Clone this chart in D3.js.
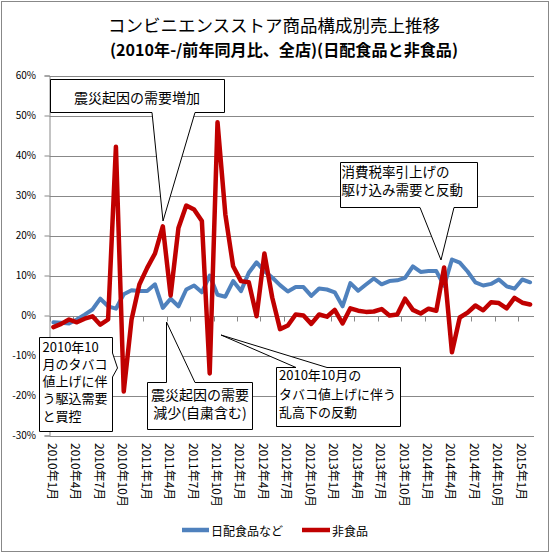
<!DOCTYPE html>
<html><head><meta charset="utf-8">
<script src="https://cdn.jsdelivr.net/npm/d3@7"></script>
<style>
html,body{margin:0;padding:0;background:#fff;}
text{font-family:"Noto Sans CJK JP","Noto Sans",sans-serif;}
</style></head>
<body>
<svg id="chart" width="551" height="554"></svg>
<script>
const months = [
"2010年1月","2010年2月","2010年3月","2010年4月","2010年5月","2010年6月","2010年7月","2010年8月","2010年9月","2010年10月","2010年11月","2010年12月",
"2011年1月","2011年2月","2011年3月","2011年4月","2011年5月","2011年6月","2011年7月","2011年8月","2011年9月","2011年10月","2011年11月","2011年12月",
"2012年1月","2012年2月","2012年3月","2012年4月","2012年5月","2012年6月","2012年7月","2012年8月","2012年9月","2012年10月","2012年11月","2012年12月",
"2013年1月","2013年2月","2013年3月","2013年4月","2013年5月","2013年6月","2013年7月","2013年8月","2013年9月","2013年10月","2013年11月","2013年12月",
"2014年1月","2014年2月","2014年3月","2014年4月","2014年5月","2014年6月","2014年7月","2014年8月","2014年9月","2014年10月","2014年11月","2014年12月",
"2015年1月","2015年2月"];
const tickLabels = ["2010年1月","2010年4月","2010年7月","2010年10月","2011年1月","2011年4月","2011年7月","2011年10月",
"2012年1月","2012年4月","2012年7月","2012年10月","2013年1月","2013年4月","2013年7月","2013年10月",
"2014年1月","2014年4月","2014年7月","2014年10月","2015年1月"];
const yTicks = [-30,-20,-10,0,10,20,30,40,50,60];
const seriesNames = ["日配食品など","非食品"];
const dailyFood = [-1.7,-1.8,-2.0,-1.0,0.2,1.5,4.2,2.3,1.7,5.3,6.3,6.1,
6.1,7.8,1.9,4.2,2.3,6.5,7.5,5.8,10.0,5.2,4.7,8.6,
6.1,10.7,13.3,11.1,9.5,7.6,6.0,7.1,7.1,4.9,6.75,6.5,
5.8,2.3,8.1,6.2,7.75,9.25,7.8,8.6,8.8,9.4,12.3,10.9,
11.1,11.1,7.4,14.0,13.2,11.0,8.3,7.5,7.9,9.0,7.3,6.7,
9.0,8.3];
const nonFood = [-2.9,-2.1,-1.0,-1.7,-0.8,-0.2,-2.3,-1.0,42.2,-19.0,-1.0,7.75,
11.9,15.5,22.3,5.0,21.9,27.5,26.5,23.6,-14.5,48.3,25.3,12.3,
8.6,8.3,-0.2,15.5,4.5,-3.4,-2.5,0.25,0,-2.1,0.25,-0.3,
1.4,-2.0,1.8,1.2,0.9,1.0,1.6,0,0.25,4.2,1.4,0.5,
1.7,1.2,12.0,-9.2,-0.5,0.7,2.5,1.3,3.3,3.1,1.8,4.4,
3.2,2.75];
const titleLines = ["コンビニエンスストア商品構成別売上推移","(2010年-/前年同月比、全店)(日配食品と非食品)"];

const svg = d3.select("#chart");
const L = 49.5, R = 534, T = 75.5, B = 435.5;
const x = d3.scaleBand().domain(months).range([L, R]).paddingInner(0).paddingOuter(0);
const y = d3.scaleLinear().domain([-30, 60]).range([B, T]);
const cx = m => x(m) + x.bandwidth()/2;

// outer border
svg.append("rect").attr("x",1.5).attr("y",1.5).attr("width",547).attr("height",550)
  .attr("fill","#fff").attr("stroke","#888").attr("stroke-width",1);

// title
svg.append("text").attr("x",108).attr("y",24).attr("dominant-baseline","central")
  .attr("font-size",17).attr("textLength",332).attr("lengthAdjust","spacingAndGlyphs")
  .attr("fill","#000").text(titleLines[0]);
svg.append("text").attr("x",110).attr("y",49).attr("dominant-baseline","central")
  .attr("font-size",16).attr("font-weight","bold").attr("textLength",348).attr("lengthAdjust","spacingAndGlyphs")
  .attr("fill","#000").text(titleLines[1]);

// gridlines
svg.append("g").selectAll("line").data(yTicks).join("line")
  .attr("x1",L).attr("x2",R).attr("y1",d=>Math.round(y(d))+0.5).attr("y2",d=>Math.round(y(d))+0.5)
  .attr("stroke","#888").attr("stroke-width",1);

// y axis
const yAxis = d3.axisLeft(y).tickValues(yTicks).tickSize(5).tickFormat(d=>d+"%");
const gy = svg.append("g").attr("transform",`translate(${L},0)`).call(yAxis);
gy.select(".domain").attr("stroke","#888");
gy.selectAll(".tick line").attr("stroke","#888");
gy.selectAll(".tick text").attr("font-family","DejaVu Sans").attr("font-size",10).attr("fill","#000").attr("x",-13.5);

// x axis ticks at 0% line (between categories every 3 months)
const tickIdx = d3.range(0, 61, 3);
svg.append("g").selectAll("line").data(tickIdx).join("line")
  .attr("x1",k=>Math.round(x(months[k]))+0.5).attr("x2",k=>Math.round(x(months[k]))+0.5)
  .attr("y1",Math.round(y(0))+0.5).attr("y2",Math.round(y(0))+5.5)
  .attr("stroke","#888");

// x labels rotated
svg.append("g").selectAll("text").data(tickLabels).join("text")
  .attr("transform",d=>`translate(${cx(d)},443) rotate(90)`)
  .attr("dominant-baseline","central").attr("font-size",12).attr("fill","#000")
  .text(d=>d);

// lines
const line = d3.line().x((d,i)=>cx(months[i])).y(d=>y(d));
svg.append("path").datum(dailyFood).attr("d",line).attr("fill","none")
  .attr("stroke","#4F81BD").attr("stroke-width",4).attr("stroke-linejoin","round").attr("stroke-linecap","round");
svg.append("path").datum(nonFood).attr("d",line).attr("fill","none")
  .attr("stroke","#C00000").attr("stroke-width",4.5).attr("stroke-linejoin","round").attr("stroke-linecap","round");

// callouts
function callout(points, lines, opts){
  svg.append("path").attr("d","M"+points.map(p=>p.join(",")).join("L")+"Z")
    .attr("fill","#fff").attr("stroke","#000").attr("stroke-width",1);
  lines.forEach((t,i)=>{
    svg.append("text").attr("x",opts.x).attr("y",opts.y0+i*opts.dy)
      .attr("dominant-baseline","central").attr("text-anchor",opts.anchor||"start")
      .attr("font-size",opts.fs).attr("fill","#000").text(t);
  });
}
callout([[50.5,79.5],[224.5,79.5],[224.5,112.5],[195,112.5],[163,221],[152,112.5],[50.5,112.5]],
  ["震災起因の需要増加"],{x:137,y0:97,dy:0,fs:14,anchor:"middle"});
callout([[340.5,162.5],[477.5,162.5],[477.5,207.5],[454,207.5],[441,260],[420,207.5],[340.5,207.5]],
  ["消費税率引上げの","駆け込み需要と反動"],{x:341.5,y0:171,dy:18.4,fs:13.5});
callout([[39.5,337.5],[112.5,337.5],[112.5,353],[117.5,368],[112.5,377],[112.5,431.5],[39.5,431.5]],
  ["2010年10","月のタバコ","値上げに伴","う駆込需要","と買控"],{x:42.5,y0:346,dy:17.3,fs:13});
callout([[147.5,382.5],[166.5,382.5],[166.5,322],[195,382.5],[252.5,382.5],[252.5,429.5],[147.5,429.5]],
  ["震災起因の需要","減少(自粛含む)"],{x:200,y0:393.5,dy:18.3,fs:14,anchor:"middle"});
callout([[276.5,367.5],[296,367.5],[221,335],[327,367.5],[400.5,367.5],[400.5,426.5],[276.5,426.5]],
  ["2010年10月の","タバコ値上げに伴う","乱高下の反動"],{x:279,y0:374.5,dy:18.6,fs:13});

// legend
const legend = [{name:seriesNames[0],color:"#4F81BD",x1:182,x2:209,tx:211},
                {name:seriesNames[1],color:"#C00000",x1:302,x2:330,tx:332}];
const lg = svg.append("g");
legend.forEach(l=>{
  lg.append("line").attr("x1",l.x1).attr("x2",l.x2).attr("y1",530).attr("y2",530)
    .attr("stroke",l.color).attr("stroke-width",4.5);
  lg.append("text").attr("x",l.tx).attr("y",530).attr("dominant-baseline","central")
    .attr("font-size",12).attr("fill","#000").text(l.name);
});
</script>
</body></html>
